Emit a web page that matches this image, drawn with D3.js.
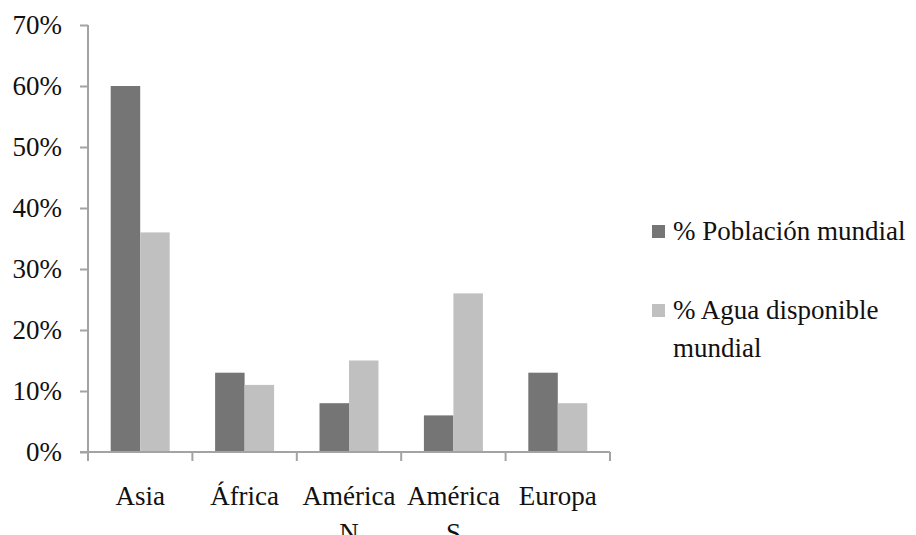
<!DOCTYPE html>
<html>
<head>
<meta charset="utf-8">
<script src="https://cdn.jsdelivr.net/npm/d3@7/dist/d3.min.js"></script>
<style>
  body { margin: 0; background: #fff; }
  svg text { font-family: "Liberation Serif", "Times New Roman", serif; fill: #111; }
</style>
</head>
<body>
<script>
// data
const regions = ["Asia", "África", "América\nN", "América\nS", "Europa"];
const seriesNames = ["% Población mundial", "% Agua disponible mundial"];
const poblacion = [0.60, 0.13, 0.08, 0.06, 0.13];
const agua = [0.36, 0.11, 0.15, 0.26, 0.08];
const yTicks = [0, 0.1, 0.2, 0.3, 0.4, 0.5, 0.6, 0.7];
const colors = ["#757575", "#c0c0c0"];

(() => {
    const W = 916, H = 535;
    const left = 88, right = 610, top = 25, bottom = 452;
    const axisColor = "#a3a3a3";

    const svg = d3.select("body").append("svg")
                  .attr("width", W)
                  .attr("height", H);

    const x = d3.scaleBand()
                .domain(regions)
                .range([left, right])
                .padding(0);

    const x1 = d3.scaleBand()
                 .domain(seriesNames)
                 .range([0, x.bandwidth()])
                 .paddingInner(0)
                 .paddingOuter(0.77);

    const y = d3.scaleLinear()
                .domain([0, 0.7])
                .range([bottom, top]);

    const rows = regions.map((r, i) => ({region: r, values: [poblacion[i], agua[i]]}));

    // bars
    const groups = svg.selectAll("g.cat")
                      .data(rows)
                      .enter()
                      .append("g")
                      .attr("class", "cat")
                      .attr("transform", d => `translate(${x(d.region)},0)`);

    groups.selectAll("rect")
          .data(d => d.values.map((v, j) => ({name: seriesNames[j], v: v, j: j})))
          .enter()
          .append("rect")
          .attr("x", d => x1(d.name))
          .attr("width", x1.bandwidth())
          .attr("y", d => y(d.v))
          .attr("height", d => bottom - y(d.v))
          .attr("fill", d => colors[d.j]);

    // y axis
    const axeY = svg.append("g")
                    .attr("transform", `translate(${left},0)`)
                    .call(d3.axisLeft(y).tickValues(yTicks).tickFormat(d3.format(".0%")).tickSize(8).tickPadding(18));
    axeY.select(".domain").attr("stroke", axisColor).attr("stroke-width", 2).attr("d", `M0,${top}V${bottom}`);
    axeY.selectAll(".tick line").attr("stroke", axisColor).attr("stroke-width", 2);
    axeY.selectAll(".tick text").style("font-size", "27px").attr("dy", "0.33em");

    // x axis (ticks on the category boundaries)
    const axeX = svg.append("g")
                    .attr("transform", `translate(0,${bottom})`);
    axeX.append("line")
        .attr("x1", left - 8).attr("x2", right)
        .attr("stroke", axisColor).attr("stroke-width", 2);
    const bounds = regions.map(r => x(r)).concat([right]);
    axeX.selectAll("line.tk")
        .data(bounds)
        .enter()
        .append("line")
        .attr("class", "tk")
        .attr("x1", d => d).attr("x2", d => d)
        .attr("y1", 0).attr("y2", 9)
        .attr("stroke", axisColor).attr("stroke-width", 2);

    const labels = axeX.selectAll("text.cat")
                       .data(regions)
                       .enter()
                       .append("text")
                       .attr("class", "cat")
                       .attr("text-anchor", "middle")
                       .style("font-size", "27px")
                       .attr("transform", d => `translate(${x(d) + x.bandwidth() / 2},53)`);
    labels.selectAll("tspan")
          .data(d => d.split("\n"))
          .enter()
          .append("tspan")
          .attr("x", 0)
          .attr("dy", (d, i) => i === 0 ? 0 : 36.5)
          .text(d => d);

    // legend
    const legendLines = [["% Población mundial"], ["% Agua disponible", "mundial"]];
    const legend = svg.append("g");
    const items = legend.selectAll("g")
                        .data(seriesNames)
                        .enter()
                        .append("g")
                        .attr("transform", (d, i) => `translate(652,${225 + i * 79})`);
    items.append("rect")
         .attr("width", 13).attr("height", 13)
         .attr("fill", (d, i) => colors[i]);
    const lt = items.append("text")
                    .attr("x", 21)
                    .attr("y", 15)
                    .style("font-size", "27px");
    lt.selectAll("tspan")
      .data((d, i) => legendLines[i])
      .enter()
      .append("tspan")
      .attr("x", 21)
      .attr("dy", (d, i) => i === 0 ? 0 : 37.5)
      .text(d => d);
})();
</script>
</body>
</html>
